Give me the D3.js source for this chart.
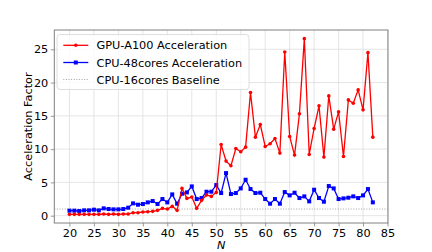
<!DOCTYPE html>
<html><head><meta charset="utf-8">
<script src="https://cdn.jsdelivr.net/npm/d3@7"></script>
<style>body{margin:0;background:#fff}svg{display:block;font-family:"DejaVu Sans",sans-serif}</style>
</head><body><svg id="c" width="432" height="252"></svg>
<script>
const nValues = d3.range(20, 83);
const gpuA100 = [0.2,0.2,0.2,0.2,0.2,0.2,0.2,0.25,0.2,0.25,0.2,0.25,0.25,0.45,0.45,0.55,0.6,0.65,0.8,1.1,1.0,1.4,0.8,4.1,2.6,2.8,1.1,2.3,3.1,2.9,3.5,10.7,8.2,7.5,10.1,9.6,10.3,18.5,11.8,13.7,10.4,10.8,11.6,9.4,24.6,11.9,9.1,15.3,26.6,9.2,13.1,16.5,8.8,18.0,13.0,15.6,8.9,17.4,16.9,18.9,15.9,24.5,11.8];
const cpu48 = [0.75,0.75,0.7,0.8,0.8,0.9,0.8,1.1,1.0,0.95,0.95,1.0,1.2,1.85,1.65,1.75,2.0,2.2,1.75,2.5,2.0,3.2,1.8,3.3,3.5,4.4,2.5,2.65,3.6,3.6,4.6,3.4,6.4,3.25,3.4,4.1,5.4,4.0,3.4,3.45,2.5,1.8,2.5,1.8,3.55,3.05,3.45,2.65,2.9,2.15,3.9,2.65,2.1,4.45,4.1,2.5,2.6,2.7,2.9,2.65,3.05,4.0,2.0];
const baseline = 1;
const xTicks = [20,25,30,35,40,45,50,55,60,65,70,75,80,85];
const yTicks = [0,5,10,15,20,25];
const seriesNames = ["GPU-A100 Acceleration","CPU-48cores Acceleration","CPU-16cores Baseline"];

const svg = d3.select("#c");
const L=54.3, R=388, T=30, B=223;
const x = d3.scaleLinear().domain([16.9,85.1]).range([L,R]);
const y = d3.scaleLinear().domain([-1.1,27.9]).range([B,T]);
const fs = 11.3, axisCol = "#808080";

// grid
const g = svg.append("g");
g.selectAll(".gx").data(xTicks).join("line").attr("x1",d=>x(d)).attr("x2",d=>x(d)).attr("y1",T).attr("y2",B).attr("stroke","#dedede").attr("stroke-width",0.8);
g.selectAll(".gy").data(yTicks).join("line").attr("y1",d=>y(d)).attr("y2",d=>y(d)).attr("x1",L).attr("x2",R).attr("stroke","#dedede").attr("stroke-width",0.8);

// axes
const xa = svg.append("g").attr("transform",`translate(0,${B})`).call(d3.axisBottom(x).tickValues(xTicks).tickSize(3.5).tickPadding(2.5));
const ya = svg.append("g").attr("transform",`translate(${L},0)`).call(d3.axisLeft(y).tickValues(yTicks).tickSize(3.5).tickPadding(2.5));
[xa,ya].forEach(a=>{a.select(".domain").remove();a.selectAll("line").attr("stroke",axisCol).attr("stroke-width",0.8);a.selectAll("text").attr("font-size",fs).attr("fill","#000").attr("font-family","DejaVu Sans");});
svg.append("rect").attr("x",L).attr("y",T).attr("width",R-L).attr("height",B-T).attr("fill","none").attr("stroke",axisCol).attr("stroke-width",1);

// baseline
svg.append("line").attr("x1",L).attr("x2",R).attr("y1",y(baseline)).attr("y2",y(baseline)).attr("stroke","#999").attr("stroke-width",0.9).attr("stroke-dasharray","1,1.6");

const line = d3.line().x((d,i)=>x(nValues[i])).y(d=>y(d));
// blue
svg.append("path").datum(cpu48).attr("d",line).attr("fill","none").attr("stroke","#0000ff").attr("stroke-width",1.3);
svg.selectAll(".sq").data(cpu48).join("rect").attr("x",(d,i)=>x(nValues[i])-2).attr("y",d=>y(d)-2).attr("width",4).attr("height",4).attr("fill","#0000ff");
// red
svg.append("path").datum(gpuA100).attr("d",line).attr("fill","none").attr("stroke","#ff0000").attr("stroke-width",1.3);
svg.selectAll(".ci").data(gpuA100).join("circle").attr("cx",(d,i)=>x(nValues[i])).attr("cy",d=>y(d)).attr("r",1.8).attr("fill","#ff0000");

// labels
svg.append("text").attr("x",(L+R)/2).attr("y",249).attr("text-anchor","middle").attr("font-size",fs).attr("font-style","italic").text("N");
svg.append("text").attr("transform",`translate(32,${(T+B)/2}) rotate(-90)`).attr("text-anchor","middle").attr("font-size",fs).text("Acceleration Factor");

// legend
const lg = svg.append("g");
lg.append("rect").attr("x",57).attr("y",34.5).attr("width",192).attr("height",55).attr("rx",3).attr("fill","#fff").attr("fill-opacity",0.8).attr("stroke","#d5d5d5").attr("stroke-width",0.8);
const ly = [45.3,62.5,79.5];
lg.append("line").attr("x1",63.3).attr("x2",88.3).attr("y1",ly[0]).attr("y2",ly[0]).attr("stroke","#ff0000").attr("stroke-width",1.3);
lg.append("circle").attr("cx",75.8).attr("cy",ly[0]).attr("r",1.8).attr("fill","#ff0000");
lg.append("line").attr("x1",63.3).attr("x2",88.3).attr("y1",ly[1]).attr("y2",ly[1]).attr("stroke","#0000ff").attr("stroke-width",1.3);
lg.append("rect").attr("x",73.8).attr("y",ly[1]-2).attr("width",4).attr("height",4).attr("fill","#0000ff");
lg.append("line").attr("x1",63.3).attr("x2",88.3).attr("y1",ly[2]).attr("y2",ly[2]).attr("stroke","#999").attr("stroke-width",0.9).attr("stroke-dasharray","1,1.6");
seriesNames.forEach((s,i)=>lg.append("text").attr("x",96.5).attr("y",ly[i]+4.1).attr("font-size",fs).text(s));
</script></body></html>
